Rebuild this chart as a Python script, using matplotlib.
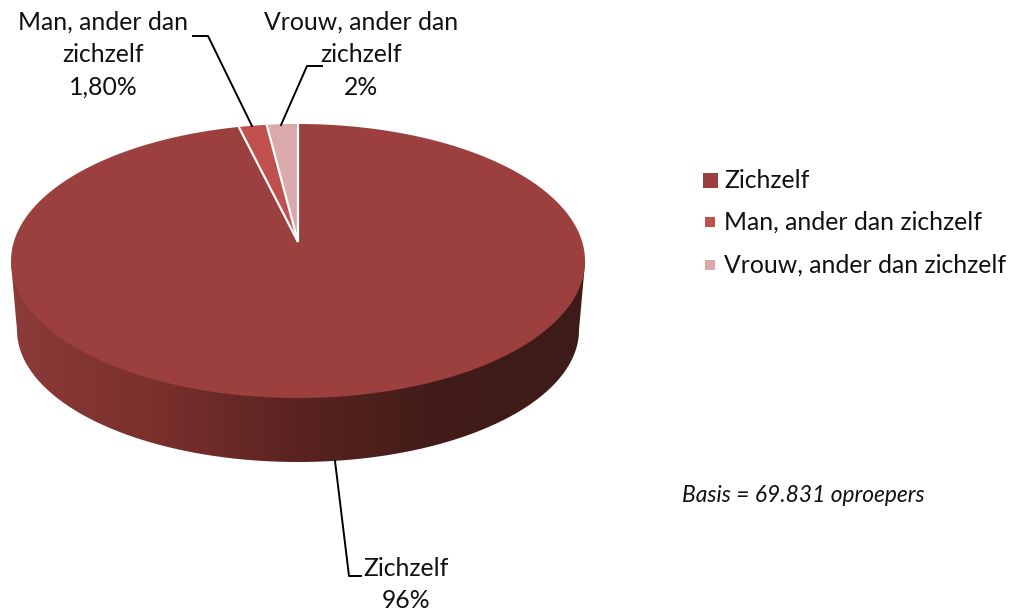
import numpy as np
import matplotlib
matplotlib.use('Agg')
import matplotlib.pyplot as plt
from matplotlib.colors import LinearSegmentedColormap
from matplotlib.patches import Polygon

categories = ['Zichzelf', 'Man, ander dan zichzelf', 'Vrouw, ander dan zichzelf']
values = [96.2, 1.8, 2.0]
pie_labels = ['Zichzelf\n96%', 'Man, ander dan\nzichzelf\n1,80%', 'Vrouw, ander dan\nzichzelf\n2%']
colors = ['#9B403E', '#C0504D', '#D9AAA9']
side_stops = [(0.0, '#8C3B39'), (0.25, '#7A302D'), (0.5, '#5A2320'), (0.75, '#411C19'), (1.0, '#3E1B18')]
note = 'Basis = 69.831 oproepers'

plt.rcParams['font.family'] = ['Lato', 'DejaVu Sans']

# everything is laid out in reference pixels
fig = plt.figure(figsize=(10.15, 6.13), dpi=100)
ax = fig.add_axes([0, 0, 1, 1])

# tilted disc: a unit circle seen in perspective, the far side is squeezed
cx, top, bottom, apex_y, half_w = 298., 124., 398., 242., 287.
persp = (bottom + top - 2 * apex_y) / (bottom - top)
slope = top * (1 + persp) - apex_y
scale_x = half_w * np.sqrt(1 - persp ** 2)


def rim(theta):
    # theta is clockwise from twelve o'clock
    u, v = np.sin(theta), np.cos(theta)
    return cx + scale_x * u / (1 + persp * v), (slope * v + apex_y) / (1 + persp * v)


# the side of the disc, lower ellipse behind the top face
t = np.linspace(0, np.pi, 200)
low_x = cx - 281 * np.cos(t)
low_y = 330 + 132 * np.sin(t)
side_x = np.concatenate([[cx - half_w], low_x, [cx + half_w]])
side_y = np.concatenate([[263], low_y, [263]])
side = Polygon(np.column_stack([side_x, side_y]), closed=True, facecolor='none', edgecolor='none')
ax.add_patch(side)
cmap = LinearSegmentedColormap.from_list('side', side_stops)
img = ax.imshow(np.linspace(0, 1, 256).reshape(1, -1), cmap=cmap, aspect='auto',
                extent=(cx - half_w, cx + half_w, 470, 255), zorder=1)
img.set_clip_path(side)

# top face
cum = np.cumsum(values) / sum(values)
starts = np.concatenate([[0], cum[:-1]]) * 2 * np.pi
stops = cum * 2 * np.pi
for start, stop, col in zip(starts, stops, colors):
    th = np.linspace(start, stop, 300)
    rx, ry = rim(th)
    ax.add_patch(Polygon(np.column_stack([np.r_[cx, rx], np.r_[apex_y, ry]]), closed=True,
                         facecolor=col, edgecolor='none', zorder=2))
for th in starts:
    rx, ry = rim(th)
    ax.plot([cx, rx], [apex_y, ry], color='white', lw=1.6, zorder=3, solid_capstyle='butt')

# leader lines
ax.plot([335, 349, 361], [461, 576, 576], color='black', lw=1.4, zorder=4)
ax.plot([193, 208, 252], [36, 36, 126], color='black', lw=1.4, zorder=4)
ax.plot([322, 307, 281], [66, 66, 125], color='black', lw=1.4, zorder=4)

fs = 17.8
spacing = 1.5
ax.text(406, 584.5, pie_labels[0], ha='center', va='center', fontsize=fs, linespacing=spacing, color='#111111')
ax.text(103, 55, pie_labels[1], ha='center', va='center', fontsize=fs, linespacing=spacing, color='#111111')
ax.text(361, 55, pie_labels[2], ha='center', va='center', fontsize=fs, linespacing=spacing, color='#111111')

# legend
legend_y = [180, 222, 265]
legend_size = [15, 10, 10]
for name, col, y, size in zip(categories, colors, legend_y, legend_size):
    ax.add_patch(Polygon([(710.5 - size / 2, y - size / 2), (710.5 + size / 2, y - size / 2),
                          (710.5 + size / 2, y + size / 2), (710.5 - size / 2, y + size / 2)],
                         closed=True, facecolor=col, edgecolor='none'))
    ax.text(724, y + 0.5, name, ha='left', va='center', fontsize=fs, color='#111111')

ax.text(682, 496, note, ha='left', va='center', fontsize=16.4, style='italic', color='#111111')

ax.set_xlim(0, 1015)
ax.set_ylim(613, 0)
ax.axis('off')
fig.savefig('out.png', dpi=100)
